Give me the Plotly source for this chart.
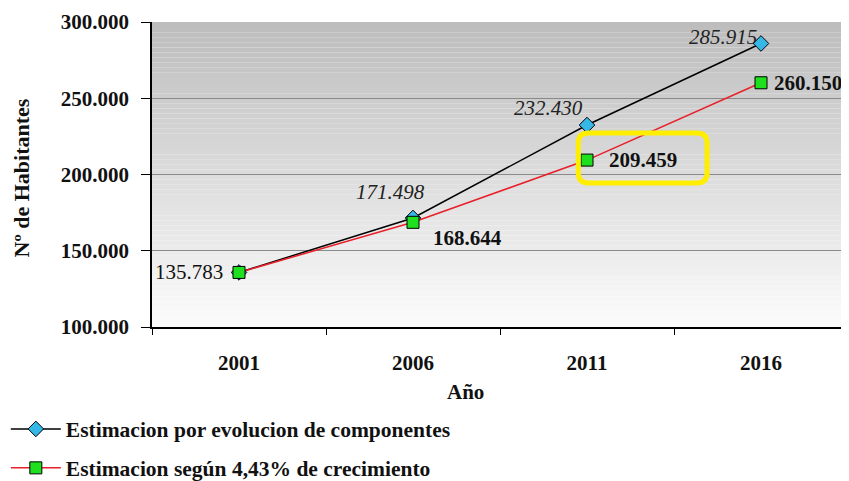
import plotly.graph_objects as go

years = ["2001", "2006", "2011", "2016"]
componentes = [135783, 171498, 232430, 285915]
crecimiento = [135783, 168644, 209459, 260150]
comp_labels = ["", "171.498", "232.430", "285.915"]
crec_labels = ["135.783", "168.644", "209.459", "260.150"]
y_ticks = [100000, 150000, 200000, 250000, 300000]
y_ticktext = ["100.000", "150.000", "200.000", "250.000", "300.000"]

serif = "Times New Roman, Liberation Serif, DejaVu Serif, serif"
fig = go.Figure()

fig.add_trace(go.Scatter(
    x=years, y=componentes, mode="lines+markers",
    name="<b>Estimacion por evolucion de componentes</b>",
    line=dict(color="black", width=1.5),
    marker=dict(symbol="diamond", size=12, color="#35b8e6", line=dict(color="black", width=1)),
    legendgroup="a",
))
fig.add_trace(go.Scatter(
    x=years, y=crecimiento, mode="lines+markers",
    name="<b>Estimacion según 4,43% de crecimiento</b>",
    line=dict(color="#e8202a", width=1.5),
    marker=dict(symbol="square", size=12, color="#1ee01e", line=dict(color="black", width=1)),
    legendgroup="b",
))

# gradient background bands
n = 60
top = (189, 189, 189)
bot = (251, 251, 251)
for i in range(n):
    t = i / (n - 1)
    c = tuple(int(round(top[k] + (bot[k] - top[k]) * t)) for k in range(3))
    fig.add_shape(type="rect", xref="x domain", yref="y domain",
                  x0=0, x1=1, y0=1 - (i + 1) / n, y1=1 - i / n,
                  fillcolor="rgb(%d,%d,%d)" % c, line=dict(width=0), layer="below")

# data labels
comp_shift = [(0, 0), (14, 26), (-2, 17), (-2, 6)]
for i, (v, lab) in enumerate(zip(componentes, comp_labels)):
    if not lab:
        continue
    fig.add_annotation(x=i, y=v, xref="x", yref="y", text=lab, showarrow=False,
                       xanchor="right", yanchor="middle",
                       xshift=comp_shift[i][0], yshift=comp_shift[i][1],
                       font=dict(family=serif, size=21, color="#222", style="italic"))
crec_shift = [(-14, 0, "right"), (18, -16, "left"), (20, 0, "left"), (11, 0, "left")]
for i, (v, lab) in enumerate(zip(crecimiento, crec_labels)):
    dx, dy, anc = crec_shift[i]
    bold = i > 0
    fig.add_annotation(x=i, y=v, xref="x", yref="y",
                       text=("<b>%s</b>" % lab) if bold else lab, showarrow=False,
                       xanchor=anc, yanchor="middle", xshift=dx, yshift=dy,
                       font=dict(family=serif, size=21, color="#111"))

# yellow highlight box (rounded)
x0, x1 = 1.95, 2.69
y0, y1 = 194500, 227200
rx, ry = 0.06, 6500
path = (f"M {x0+rx},{y0} L {x1-rx},{y0} Q {x1},{y0} {x1},{y0+ry} "
        f"L {x1},{y1-ry} Q {x1},{y1} {x1-rx},{y1} L {x0+rx},{y1} "
        f"Q {x0},{y1} {x0},{y1-ry} L {x0},{y0+ry} Q {x0},{y0} {x0+rx},{y0} Z")
fig.add_shape(type="path", path=path, xref="x", yref="y",
              line=dict(color="#ffee00", width=5), fillcolor="rgba(0,0,0,0)", layer="above")

# axis titles
fig.add_annotation(text="<b>Nº de Habitantes</b>", x=-0.187, y=0.49, xref="paper", yref="paper",
                   xanchor="center", yanchor="middle",
                   textangle=-90, showarrow=False, font=dict(family=serif, size=22, color="#111"))
fig.add_annotation(text="<b>Año</b>", x=0.45, y=-0.213, xref="paper", yref="paper",
                   xanchor="center", yanchor="middle",
                   showarrow=False, font=dict(family=serif, size=21, color="#111"))

fig.update_xaxes(type="category", range=[-0.5, 3.5], tickson="boundaries",
                 ticks="outside", ticklen=6, tickcolor="black", automargin=False,
                 showline=True, linecolor="black", linewidth=1.5, showgrid=False,
                 tickfont=dict(family=serif, size=21, color="#111"),
                 tickprefix="<b>", ticksuffix="</b>", ticklabelstandoff=16)
fig.update_yaxes(range=[100000, 300000], tickvals=y_ticks, ticktext=["<b>%s</b>" % t for t in y_ticktext],
                 ticks="outside", ticklen=9, tickcolor="black", automargin=False,
                 showline=True, linecolor="black", linewidth=1.5,
                 showgrid=True, gridcolor="#8a8a8a", gridwidth=1, zeroline=False,
                 tickfont=dict(family=serif, size=21, color="#111"), ticklabelstandoff=8)

fig.update_layout(
    width=841, height=473,
    margin=dict(l=144, r=1, t=14, b=154, autoexpand=False),
    paper_bgcolor="white", plot_bgcolor="rgba(0,0,0,0)",
    showlegend=True,
    legend=dict(x=-0.210, y=-0.267, xanchor="left", yanchor="top", orientation="v",
                tracegroupgap=8, itemwidth=50,
                font=dict(family=serif, size=21.5, color="#111"), bgcolor="rgba(0,0,0,0)"),
)

fig.write_html("out.html")
